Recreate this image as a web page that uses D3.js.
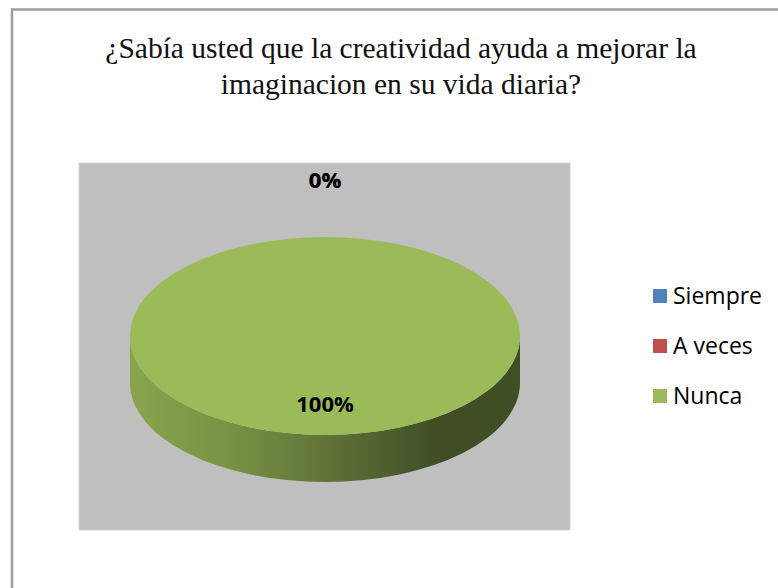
<!DOCTYPE html>
<html><head><meta charset="utf-8">
<script src="https://cdn.jsdelivr.net/npm/d3@7"></script>
<style>body{margin:0;background:#fff;overflow:hidden}
.ttl, .ttl tspan{font-family:"Liberation Serif", serif;}
text.lbl{font-family:"Open Sans";font-weight:bold;}
text.leg{font-family:"Open Sans";}
</style>
</head><body>
<svg id="c" width="778" height="588"></svg>
<script>
const categories = ["Siempre", "A veces", "Nunca"];
const values = [0, 0, 100];
const colors = ["#4f81bd", "#c0504d", "#9bbb59"];
const titleLines = ["¿Sabía usted que la creatividad ayuda a mejorar la", "imaginacion en su vida diaria?"];

const W = 778, H = 588;
const svg = d3.select("#c");
svg.append("rect").attr("width", W).attr("height", H).attr("fill", "#fff");

// outer chart border (right and bottom run off the picture)
svg.append("rect").attr("x", 12).attr("y", 9.5).attr("width", 820).attr("height", 620)
  .attr("fill", "none").attr("stroke", "#9c9c9c").attr("stroke-width", 2.5);

// title
svg.append("g").selectAll("text").data(titleLines).join("text")
  .attr("class", "ttl")
  .attr("x", 401).attr("y", (d, i) => 58 + i * 36)
  .attr("text-anchor", "middle")
  .attr("font-size", 29.5).attr("fill", "#111")
  .append("tspan").attr("style", "font-family:'Liberation Serif', serif")
  .text(d => d);

// plot area
svg.append("rect").attr("x", 79).attr("y", 163).attr("width", 491).attr("height", 367)
  .attr("fill", "#bfbfbf").attr("stroke", "#d4d4d4").attr("stroke-width", 1);

// 3D pie geometry
const cx = 325, cy = 336, rx = 195, ry = 99, depth = 47;
const total = d3.sum(values);
const pie = d3.pie().sort(null).startAngle(0).endAngle(2 * Math.PI);
const arcs = pie(values).map((a, i) => Object.assign(a, {cat: categories[i], color: colors[i]}));
const pt = (a, dy = 0) => [cx + rx * Math.sin(a), cy - ry * Math.cos(a) + dy];

const defs = svg.append("defs");
arcs.forEach((a, i) => {
  const g = defs.append("linearGradient").attr("id", "side" + i)
    .attr("gradientUnits", "userSpaceOnUse")
    .attr("x1", cx - rx).attr("x2", cx + rx).attr("y1", 0).attr("y2", 0);
  const stops = [[0, 0.88], [0.25, 0.78], [0.5, 0.62], [0.72, 0.46], [0.8, 0.41], [1, 0.42]];
  stops.forEach(([o, k]) => {
    const cc = d3.rgb(a.color);
    g.append("stop").attr("offset", o)
      .attr("stop-color", d3.rgb(cc.r * k, cc.g * k, cc.b * k));
  });
});

// side walls (front half only)
const sideG = svg.append("g");
arcs.forEach((a, i) => {
  const s = Math.max(a.startAngle, Math.PI / 2), e = Math.min(a.endAngle, 3 * Math.PI / 2);
  if (e <= s) return;
  const [x0, y0] = pt(s), [x1, y1] = pt(e);
  const large = (e - s) > Math.PI ? 1 : 0;
  const d = `M${x0},${y0} A${rx},${ry} 0 ${large} 1 ${x1},${y1} L${x1},${y1 + depth} ` +
            `A${rx},${ry} 0 ${large} 0 ${x0},${y0 + depth} Z`;
  sideG.append("path").attr("d", d).attr("fill", `url(#side${i})`);
});

// top faces
const arcGen = d3.arc().innerRadius(0).outerRadius(rx);
svg.append("g").attr("transform", `translate(${cx},${cy}) scale(1,${ry / rx})`)
  .selectAll("path").data(arcs.filter(a => a.value > 0)).join("path")
  .attr("d", arcGen).attr("fill", d => d.color);

// data labels
const fmt = d3.format(".0%");
svg.append("g").selectAll("text").data(arcs).join("text")
  .attr("class", "lbl")
  .attr("x", d => {
    const m = (d.startAngle + d.endAngle) / 2;
    return d.value > 0 ? cx + rx * 0.69 * Math.sin(m) : cx + (rx + 57) * Math.sin(m);
  })
  .attr("y", d => {
    const m = (d.startAngle + d.endAngle) / 2;
    return (d.value > 0 ? cy - ry * 0.69 * Math.cos(m) : cy - (ry + 57) * Math.cos(m)) + 8;
  })
  .attr("text-anchor", "middle")
  .attr("font-size", 22).attr("fill", "#000")
  .text(d => fmt(d.value / total));

// legend
const ly = d3.scalePoint().domain(categories).range([296, 396]);
const leg = svg.append("g").selectAll("g").data(categories).join("g")
  .attr("transform", d => `translate(653,${ly(d)})`);
leg.append("rect").attr("x", 0).attr("y", -7).attr("width", 14).attr("height", 14)
  .attr("fill", (d, i) => colors[i]);
leg.append("text").attr("class", "leg").attr("x", 20).attr("y", 8)
  .attr("font-size", 23).attr("fill", "#000")
  .text(d => d);
</script>
</body></html>
